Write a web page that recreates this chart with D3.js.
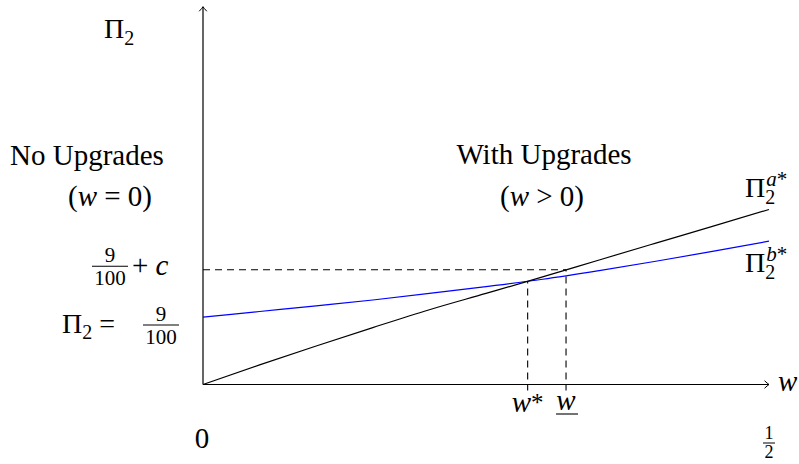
<!DOCTYPE html>
<html>
<head>
<meta charset="utf-8">
<script src="https://cdn.jsdelivr.net/npm/d3@7"></script>
</head>
<body style="margin:0">
<script>
// sampled curves, w in [0, 1/2]
var wGrid = [0, 0.05, 0.1, 0.15, 0.2, 0.25, 0.3, 0.35, 0.4, 0.45, 0.5];
var piA = [0, 0.0262, 0.0515, 0.0761, 0.1000, 0.1218, 0.1438, 0.1665, 0.1890, 0.2114, 0.2340];
var piB = [0.0900, 0.0976, 0.1052, 0.1130, 0.1217, 0.1309, 0.1407, 0.1523, 0.1648, 0.1779, 0.1916];

var wStar = 0.2868;
var wBar = 0.3207;
var piBase = 0.09;        // 9/100
var piBaseC = 0.1534;     // 9/100 + c
var wMax = 0.5;
var yMax = 0.505;

const W = 799, H = 464;
var serifs = ["Liberation Serif", "Tinos", "Times New Roman", "FreeSerif"];
var FONT = serifs.map(f => "'" + f + "'").join(", ") + ", serif";

var svg = d3.select("body")
    .append("svg")
    .attr("width", W)
    .attr("height", H)
    .style("font-family", FONT);

var x = d3.scaleLinear().domain([0, wMax]).range([203, 769]);
var y = d3.scaleLinear().domain([0, 0.5]).range([384.5, 10.5]);

// arrow head like tikz "->"
svg.append("defs").append("marker")
    .attr("id", "arr")
    .attr("viewBox", "-6 -5 8 10")
    .attr("refX", 0)
    .attr("refY", 0)
    .attr("markerWidth", 8)
    .attr("markerHeight", 10)
    .attr("markerUnits", "userSpaceOnUse")
    .attr("orient", "auto")
    .append("path")
    .attr("d", "M-4.5,-3.8 Q-1.5,-1 0,0 Q-1.5,1 -4.5,3.8")
    .attr("fill", "none")
    .attr("stroke", "#000")
    .attr("stroke-width", 1);

// dashed guides
var dash = "7,5";
svg.append("line")
    .attr("x1", x(0)).attr("y1", y(piBaseC))
    .attr("x2", x(wBar)).attr("y2", y(piBaseC))
    .attr("stroke", "#000").attr("stroke-width", 1.1)
    .attr("stroke-dasharray", dash);
[wStar, wBar].forEach(function (w, i) {
    var v = i == 0 ? piB[5] + (piB[6] - piB[5]) * (wStar - 0.25) / 0.05 : piBaseC;
    svg.append("line")
        .attr("x1", x(w)).attr("y1", y(0) + 6)
        .attr("x2", x(w)).attr("y2", y(v))
        .attr("stroke", "#000").attr("stroke-width", 1.1)
        .attr("stroke-dasharray", dash)
        .attr("stroke-dashoffset", 1);
});

// axes
svg.append("line")
    .attr("x1", x(0)).attr("y1", y(0))
    .attr("x2", x(wMax)).attr("y2", y(0))
    .attr("stroke", "#000").attr("stroke-width", 1.2)
    .attr("marker-end", "url(#arr)");
svg.append("line")
    .attr("x1", x(0)).attr("y1", y(0))
    .attr("x2", x(0)).attr("y2", y(yMax))
    .attr("stroke", "#000").attr("stroke-width", 1.2)
    .attr("marker-end", "url(#arr)");

var line = d3.line()
    .x((d, i) => x(wGrid[i]))
    .y(d => y(d))
    .curve(d3.curveMonotoneX);

svg.append("path")
    .datum(piB)
    .attr("d", line)
    .attr("fill", "none")
    .attr("stroke", "#0000ff")
    .attr("stroke-width", 1.2);

svg.append("path")
    .datum(piA)
    .attr("d", line)
    .attr("fill", "none")
    .attr("stroke", "#000")
    .attr("stroke-width", 1.2);

// ---- labels ----
function txt(px, py, size, anchor) {
    return svg.append("text")
        .attr("x", px).attr("y", py)
        .style("font-family", FONT)
        .attr("font-size", size)
        .attr("text-anchor", anchor || "start");
}
function ital(sel) {
    return sel.style("font-style", "italic");
}
function frac(cx, barY, num, den, size, bw, gap) {
    txt(cx, barY - 4, size, "middle").text(num);
    txt(cx, barY + gap, size, "middle").text(den);
    svg.append("line")
        .attr("x1", cx - bw / 2).attr("x2", cx + bw / 2)
        .attr("y1", barY).attr("y2", barY)
        .attr("stroke", "#000").attr("stroke-width", 1);
}
function piSub(px, py, sup) {
    var t = txt(px, py, 28);
    t.append("tspan").text("\u03A0");
    t.append("tspan").attr("font-size", 20).attr("dy", 7).text("2");
    if (sup) {
        var s = t.append("tspan").attr("font-size", 21).attr("dx", -9).attr("dy", -18);
        ital(s.append("tspan")).text(sup);
        s.append("tspan").text("*");
    }
}

// y-axis title
piSub(104, 38);

// regions
txt(10, 165, 29).text("No Upgrades");
var t0 = txt(110, 206, 29, "middle");
t0.append("tspan").text("(");
ital(t0.append("tspan")).text("w");
t0.append("tspan").text(" = 0)");

txt(544, 164, 29, "middle").text("With Upgrades");
var t1 = txt(542, 206, 29, "middle");
t1.append("tspan").text("(");
ital(t1.append("tspan")).text("w");
t1.append("tspan").text(" > 0)");

// curve labels
piSub(745, 197, "a");
piSub(745, 272, "b");

// y labels
frac(110, y(piBaseC) - 3.5, "9", "100", 21, 36, 19);
var tc = txt(132, 275, 29);
tc.append("tspan").text("+ ");
ital(tc.append("tspan")).text("c");

var tp = txt(62, 333, 28);
tp.append("tspan").text("\u03A0");
tp.append("tspan").attr("font-size", 20).attr("dy", 6).text("2");
tp.append("tspan").attr("dy", -6).text(" =");
frac(161, 325, "9", "100", 21, 36, 19);

// x labels
txt(x(0) - 1, 448, 29, "middle").text("0");
frac(x(wMax), 443, "1", "2", 18, 12, 15);
ital(txt(778, 391, 29)).text("w");

var ts = txt(x(wStar) - 16, 412, 29);
ital(ts.append("tspan")).text("w");
ts.append("tspan").attr("font-size", 25).attr("dy", -1).text("*");
ital(txt(x(wBar), 410, 29, "middle")).text("w");
svg.append("line")
    .attr("x1", x(wBar) - 10).attr("x2", x(wBar) + 12)
    .attr("y1", 414).attr("y2", 414)
    .attr("stroke", "#000").attr("stroke-width", 1.1);
</script>
</body>
</html>
